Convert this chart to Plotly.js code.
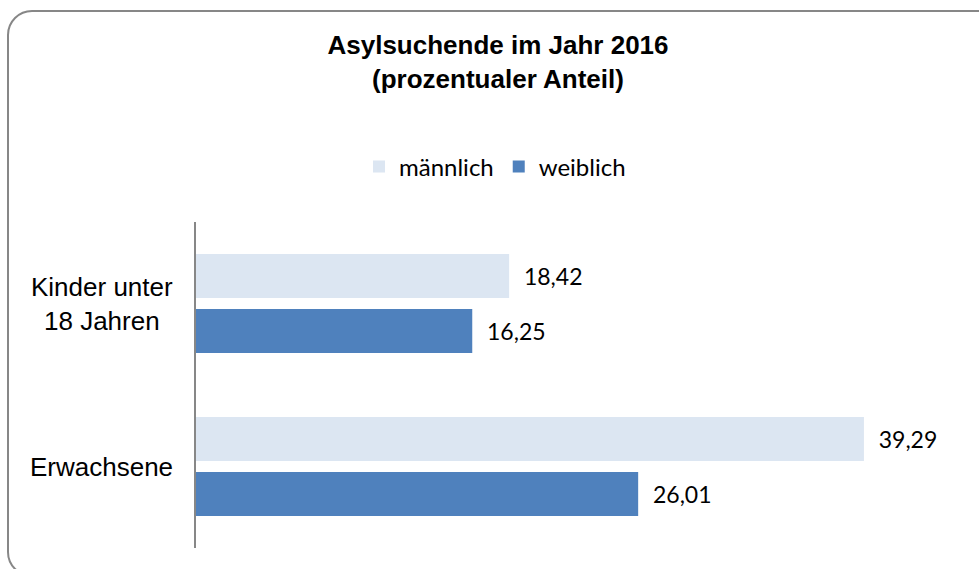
<!DOCTYPE html>
<html>
<head>
<meta charset="utf-8">
<script src="https://cdn.plot.ly/plotly-3.0.1.min.js"></script>
<style>
  html, body { margin: 0; padding: 0; background: #ffffff; overflow: hidden; }
  #frame {
    position: absolute; left: 7px; top: 10px; width: 1010px; height: 567px;
    border: 2px solid #878787; border-radius: 25px; box-sizing: border-box;
  }
  #chart { position: absolute; left: 0; top: 0; width: 979px; height: 569px; }
</style>
</head>
<body>
<div id="frame"></div>
<div id="chart"></div>
<script>
const categories = ["Kinder unter<br>18 Jahren", "Erwachsene"];
const seriesNames = ["männlich", "weiblich"];
const maleValues = [18.42, 39.29];
const femaleValues = [16.25, 26.01];

const labelFont = { family: "Lato, 'Open Sans', sans-serif", size: 23, color: "#000000" };
const pad = "\u00a0\u00a0";

const traces = [
  {
    type: "bar", orientation: "h", name: seriesNames[0],
    y: categories, x: maleValues,
    marker: { color: "#DCE6F2", line: { width: 0 } },
    texttemplate: pad + "%{x:.2f}", textposition: "outside",
    textfont: labelFont, cliponaxis: false, constraintext: "none",
    hoverinfo: "skip"
  },
  {
    type: "bar", orientation: "h", name: seriesNames[1],
    y: categories, x: femaleValues,
    marker: { color: "#4F81BD", line: { width: 0 } },
    texttemplate: pad + "%{x:.2f}", textposition: "outside",
    textfont: labelFont, cliponaxis: false, constraintext: "none",
    hoverinfo: "skip"
  }
];

const annotations = categories.map(c => ({
  xref: "paper", yref: "y", x: 0, y: c, xanchor: "right", yanchor: "middle",
  xshift: -21, text: c, showarrow: false, align: "center",
  font: { family: "'Liberation Sans', Arial, sans-serif", size: 26, color: "#000000" }
}));

const layout = {
  width: 979, height: 569,
  paper_bgcolor: "rgba(0,0,0,0)", plot_bgcolor: "rgba(0,0,0,0)",
  margin: { l: 196, r: 103, t: 222, b: 21, pad: 0 },
  separators: ",.",
  barmode: "group", bargap: 0.325, bargroupgap: 0.2,
  title: {
    text: "Asylsuchende im Jahr 2016<br>(prozentualer Anteil)",
    font: { family: "'Liberation Sans', Arial, sans-serif", size: 26, color: "#000000", weight: "bold" },
    xref: "container", yref: "container", x: 498 / 979, xanchor: "center",
    y: 1 - 54 / 569, yanchor: "top"
  },
  showlegend: true,
  legend: {
    orientation: "h", xref: "container", yref: "container",
    x: 359 / 979, xanchor: "left", y: 1 - 167 / 569, yanchor: "middle",
    font: { family: "Lato, 'Open Sans', sans-serif", size: 24, color: "#000000" },
    traceorder: "normal", bgcolor: "rgba(0,0,0,0)"
  },
  xaxis: {
    range: [0, 40], visible: false, showgrid: false, zeroline: false, fixedrange: true
  },
  yaxis: {
    type: "category", range: [1.5, -0.5], showticklabels: false, ticks: "",
    showline: true, linecolor: "#878787", linewidth: 2, showgrid: false,
    zeroline: false, fixedrange: true
  },
  annotations: annotations,
  hovermode: false
};

Plotly.newPlot("chart", traces, layout, { displayModeBar: false, staticPlot: true });
</script>
</body>
</html>
